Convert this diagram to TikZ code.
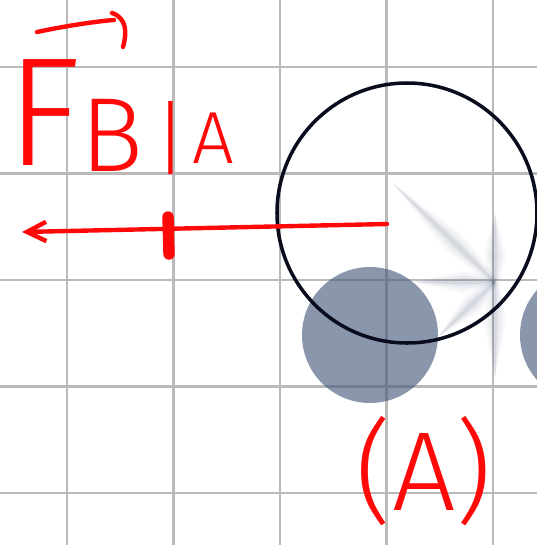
\documentclass[tikz,border=0pt]{standalone}
\usepackage{fontspec}
\setmainfont{Fira Sans}
\newfontfamily\hand{Fira Sans Light}
\usetikzlibrary{arrows.meta}
\definecolor{inkred}{RGB}{255,8,8}
\definecolor{dotblue}{RGB}{70,89,122}
\definecolor{gridgray}{RGB}{186,186,186}
\definecolor{ringblack}{RGB}{8,12,28}

\begin{document}
\begin{tikzpicture}[x=0.02cm, y=-0.02cm,
    every node/.style={inner sep=0pt, text=inkred},
    scribble/.style={font=\hand\fontsize{#1}{#1}\selectfont},
    gridline/.style={draw=gridgray, line width=1.2pt},
    ink/.style={draw=inkred, line width=2.5pt, line cap=round, line join=round},
    puck/.style={fill=dotblue, fill opacity=0.63},
    ray/.style={fill=dotblue, opacity=#1}]
  \clip (0,0) rectangle (537,545);
  \fill[white] (0,0) rectangle (537,545);
  \foreach \g in {67,173.5,280,386.5,493}{
    \draw[gridline] (\g,0) -- (\g,545);
    \draw[gridline] (0,\g) -- (537,\g);}
  \coordinate (glint) at (495,282);
  \foreach \a/\len in {224/142,180/80,270/68,90/96,136/78}
    \foreach \w/\op in {11/0.045,7/0.06,4/0.07,2/0.07}
      \fill[ray=\op, shift={(glint)}, rotate=-\a]
        (0,-0.4*\w) -- (0.4*\len,-\w) -- (\len,0)
        -- (0.4*\len,\w) -- (0,0.4*\w) -- cycle;
  \fill[puck] (370,335) circle[radius=68];
  \fill[puck] (588,335) circle[radius=68];
  \draw[draw=ringblack, line width=2pt] (407,213) circle[radius=130];
  \coordinate (pull) at (387,224);
  \coordinate (tip) at (22,232);
  \coordinate (tickt) at (168,217);
  \coordinate (tickb) at (169,254);
  \draw[ink, -{Straight Barb[length=11pt, width=11pt]}] (pull) -- (tip);
  \draw[draw=inkred, line width=6.5pt, line cap=round] (tickt) -- (tickb);
  \node[scribble=88pt, anchor=base west] (force) at (6,165) {F};
  \node[scribble=60pt, anchor=base west] (onB) at (80,171) {B};
  \node[scribble=46pt] (bar) at (171,138) {|};
  \node[scribble=42pt, anchor=base west] (byA) at (192,163) {A};
  \node[scribble=64pt, anchor=base] (label) at (424,510) {(A)};
  \draw[ink] (37,32) .. controls (70,25) and (100,21) .. (114,20);
  \draw[ink] (112,13) .. controls (127,18) and (127,33) .. (123,47);
\end{tikzpicture}
\end{document}
